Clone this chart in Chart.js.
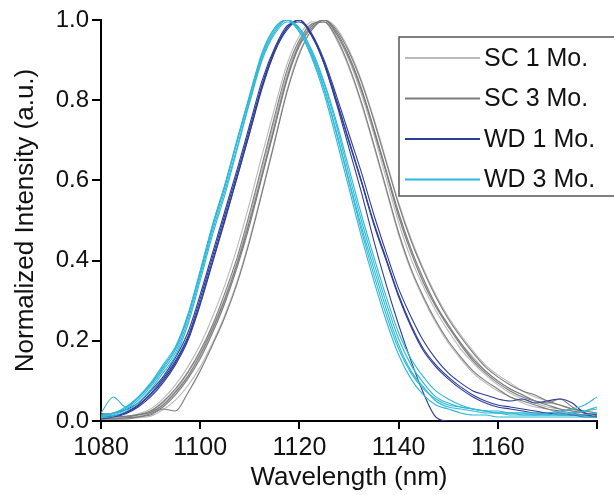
<!DOCTYPE html>
<html>
<head>
<meta charset="utf-8">
<script src="https://cdn.jsdelivr.net/npm/chart.js@4.4.1/dist/chart.umd.min.js"></script>
<style>
  html, body { margin: 0; padding: 0; background: #fff; }
</style>
</head>
<body>
<canvas id="chart" width="614" height="495"></canvas>
<script>
// wavelength grid (nm), shared by every spectrum
const wavelengths = [1080, 1082.5, 1085, 1087.5, 1090, 1092.5, 1095, 1097.5, 1100, 1102.5,
  1105, 1107.5, 1110, 1112.5, 1115, 1117.5, 1120, 1122.5, 1125, 1127.5,
  1130, 1132.5, 1135, 1137.5, 1140, 1142.5, 1145, 1147.5, 1150, 1152.5,
  1155, 1157.5, 1160, 1162.5, 1165, 1167.5, 1170, 1172.5, 1175, 1177.5, 1180];

const groupLabels = ['SC 1 Mo.', 'SC 3 Mo.', 'WD 1 Mo.', 'WD 3 Mo.'];
const groupColors = ['#b9b9b9', '#7c7c7c', '#2e3d99', '#2fb8d8'];

const xTicks = [1080, 1100, 1120, 1140, 1160, 1180];
const yTicks = [0, 0.2, 0.4, 0.6, 0.8, 1.0];

// SC 1 Mo. spectra
const sc1Curves = [
  [0.005,0.005,0.008,0.012,0.02,0.04,0.07,0.11,0.16,0.225,0.3,0.39,0.5,0.62,0.74,0.86,0.94,0.985,
   1.0,0.965,0.9,0.815,0.715,0.605,0.495,0.405,0.335,0.275,0.225,0.18,0.145,0.115,0.09,0.07,0.055,0.045,0.035,0.03,0.025,0.02,0.015],
  [0.01,0.008,0.01,0.018,0.03,0.055,0.09,0.135,0.19,0.26,0.34,0.435,0.545,0.665,0.78,0.89,0.96,0.995,
   0.995,0.95,0.88,0.79,0.685,0.575,0.465,0.375,0.305,0.245,0.195,0.155,0.12,0.095,0.075,0.06,0.045,0.035,0.03,0.02,0.015,0.015,0.01],
  [0.005,0.005,0.005,0.008,0.012,0.028,0.052,0.088,0.135,0.195,0.265,0.35,0.455,0.575,0.7,0.825,0.92,0.975,
   1.0,0.98,0.925,0.85,0.755,0.65,0.545,0.455,0.38,0.315,0.26,0.215,0.175,0.14,0.115,0.095,0.075,0.06,0.05,0.04,0.03,0.02,0.015],
  [0.015,0.01,0.012,0.015,0.025,0.045,0.075,0.12,0.17,0.235,0.31,0.4,0.51,0.63,0.75,0.865,0.945,0.99,
   0.995,0.96,0.9,0.82,0.725,0.62,0.515,0.425,0.35,0.29,0.24,0.195,0.16,0.125,0.1,0.08,0.065,0.05,0.045,0.04,0.03,0.025,0.02]
];

// SC 3 Mo. spectra
const sc3Curves = [
  [0.005,0.005,0.008,0.01,0.018,0.035,0.065,0.105,0.155,0.22,0.295,0.385,0.49,0.61,0.73,0.85,0.935,0.98,
   1.0,0.97,0.91,0.83,0.73,0.625,0.52,0.43,0.355,0.29,0.24,0.195,0.155,0.125,0.1,0.08,0.065,0.05,0.04,0.03,0.025,0.02,0.015],
  [0.008,0.01,0.012,0.016,0.025,0.048,0.08,0.122,0.175,0.24,0.32,0.41,0.52,0.64,0.76,0.875,0.95,0.99,
   0.995,0.955,0.885,0.795,0.69,0.58,0.47,0.38,0.31,0.25,0.2,0.16,0.125,0.1,0.08,0.06,0.05,0.04,0.03,0.025,0.02,0.015,0.01],
  [0.01,0.005,0.005,0.01,0.015,0.03,0.025,0.07,0.125,0.19,0.26,0.345,0.45,0.57,0.695,0.82,0.915,0.975,
   1.0,0.975,0.92,0.845,0.75,0.645,0.54,0.45,0.375,0.31,0.255,0.21,0.17,0.135,0.11,0.09,0.075,0.065,0.05,0.04,0.03,0.025,0.02],
  [0.02,0.012,0.01,0.015,0.022,0.04,0.072,0.112,0.165,0.23,0.305,0.395,0.5,0.615,0.735,0.855,0.94,0.985,
   1.0,0.965,0.905,0.825,0.725,0.62,0.51,0.42,0.345,0.285,0.235,0.19,0.15,0.12,0.095,0.075,0.06,0.05,0.045,0.055,0.035,0.02,0.015]
];

// WD 1 Mo. spectra
const wd1Curves = [
  [0.008,0.012,0.022,0.04,0.068,0.105,0.15,0.21,0.305,0.41,0.515,0.62,0.73,0.84,0.925,0.98,
   1.0,0.96,0.89,0.795,0.695,0.595,0.49,0.4,0.31,0.235,0.175,0.135,0.105,0.08,0.06,0.045,0.035,0.03,0.025,0.02,0.02,0.015,0.015,0.01,0.01],
  [0.005,0.01,0.018,0.035,0.06,0.095,0.14,0.2,0.29,0.395,0.5,0.61,0.72,0.83,0.92,0.975,
   1.0,0.965,0.89,0.79,0.68,0.57,0.45,0.34,0.24,0.15,0.07,0.01,0,0,0,0,0,0,0,0,0,0,0,0,0],
  [0.015,0.02,0.028,0.045,0.075,0.11,0.158,0.22,0.315,0.42,0.525,0.63,0.74,0.85,0.93,0.985,
   0.995,0.965,0.9,0.81,0.715,0.62,0.515,0.42,0.33,0.26,0.2,0.155,0.12,0.095,0.075,0.065,0.055,0.05,0.055,0.045,0.05,0.055,0.045,0.02,0.015],
  [0.01,0.012,0.02,0.038,0.065,0.1,0.145,0.205,0.295,0.4,0.505,0.61,0.72,0.835,0.92,0.98,
   1.0,0.96,0.895,0.8,0.7,0.6,0.495,0.405,0.315,0.24,0.18,0.14,0.11,0.085,0.065,0.05,0.04,0.035,0.03,0.025,0.02,0.02,0.015,0.015,0.01]
];

// WD 3 Mo. spectra
const wd3Curves = [
  [0.01,0.015,0.028,0.052,0.085,0.127,0.17,0.25,0.36,0.475,0.575,0.685,0.8,0.905,0.97,
   1.0,0.975,0.915,0.83,0.72,0.6,0.485,0.38,0.28,0.19,0.125,0.085,0.05,0.035,0.03,0.025,0.02,0.02,0.015,0.015,0.015,0.015,0.015,0.015,0.015,0.02],
  [0.02,0.06,0.035,0.058,0.09,0.132,0.178,0.26,0.37,0.485,0.585,0.7,0.81,0.91,0.975,
   1.0,0.98,0.92,0.84,0.735,0.615,0.5,0.395,0.295,0.205,0.14,0.095,0.06,0.045,0.035,0.03,0.025,0.02,0.02,0.015,0.015,0.015,0.02,0.02,0.025,0.03],
  [0.012,0.018,0.032,0.058,0.092,0.135,0.18,0.262,0.372,0.488,0.59,0.7,0.81,0.915,0.98,
   1.0,0.97,0.905,0.815,0.7,0.58,0.46,0.35,0.25,0.165,0.105,0.065,0.04,0.03,0.02,0.015,0.015,0.01,0.01,0.01,0.01,0.01,0.01,0.01,0.01,0.01],
  [0.008,0.012,0.024,0.046,0.078,0.12,0.162,0.24,0.35,0.465,0.565,0.68,0.795,0.9,0.965,
   0.995,0.98,0.925,0.845,0.745,0.63,0.515,0.41,0.31,0.22,0.155,0.11,0.075,0.055,0.04,0.03,0.025,0.025,0.02,0.02,0.02,0.015,0.015,0.02,0.025,0.035],
  [0.015,0.02,0.035,0.06,0.095,0.14,0.185,0.265,0.375,0.49,0.59,0.705,0.815,0.92,0.98,
   1.0,0.97,0.91,0.825,0.715,0.595,0.475,0.365,0.265,0.18,0.12,0.08,0.055,0.04,0.035,0.03,0.025,0.02,0.02,0.02,0.015,0.02,0.025,0.03,0.04,0.06]
];

const groupCurves = [sc1Curves, sc3Curves, wd1Curves, wd3Curves];

const FONT = '"Liberation Sans", Arial, sans-serif';

// one dataset per spectrum; later groups are drawn on top
const datasets = [];
groupCurves.forEach((curves, g) => {
  curves.forEach((vals) => {
    datasets.push({
      label: groupLabels[g],
      data: vals.map((v, i) => ({ x: wavelengths[i], y: v })),
      borderColor: groupColors[g],
      borderWidth: 1.1,
      pointRadius: 0,
      fill: false,
      cubicInterpolationMode: 'monotone',
      order: groupCurves.length - g,
    });
  });
});

// boxed legend in the upper right, drawn on the canvas
const boxLegend = {
  id: 'boxLegend',
  afterDraw(chart) {
    const { ctx, chartArea } = chart;
    const left = chartArea.right - 198;
    const top = chartArea.top + 17;
    ctx.save();
    ctx.fillStyle = '#fff';
    ctx.fillRect(left, top, 240, 159);
    ctx.strokeStyle = '#555';
    ctx.lineWidth = 1.5;
    ctx.strokeRect(left, top, 240, 159);
    ctx.font = '25px ' + FONT;
    ctx.textBaseline = 'middle';
    groupLabels.forEach((label, i) => {
      const y = top + 21 + i * 40.5;
      ctx.strokeStyle = groupColors[i];
      ctx.lineWidth = 2;
      ctx.beginPath();
      ctx.moveTo(left + 6, y);
      ctx.lineTo(left + 81, y);
      ctx.stroke();
      ctx.fillStyle = '#111';
      ctx.fillText(label, left + 85, y + 1);
    });
    ctx.restore();
  },
};

new Chart(document.getElementById('chart'), {
  type: 'line',
  data: { datasets },
  plugins: [boxLegend],
  options: {
    responsive: false,
    animation: false,
    layout: { padding: { top: 20, right: 17, left: 0, bottom: 0 } },
    plugins: { legend: { display: false }, tooltip: { enabled: false } },
    scales: {
      x: {
        type: 'linear',
        min: 1080,
        max: 1180,
        afterBuildTicks: (s) => { s.ticks = xTicks.map((v) => ({ value: v })); },
        afterFit: (s) => { s.height = 74; },
        ticks: {
          autoSkip: false,
          maxRotation: 0,
          padding: 4,
          color: '#111',
          font: { family: FONT, size: 25 },
          callback: (v) => (v === 1180 ? '' : v),
        },
        grid: { drawOnChartArea: false, drawTicks: true, tickLength: 8, color: '#000', lineWidth: 2 },
        border: { display: true, color: '#000', width: 2 },
        title: { display: true, text: 'Wavelength (nm)', color: '#111', font: { family: FONT, size: 26 }, padding: { top: 0, bottom: 2 } },
      },
      y: {
        min: 0,
        max: 1.0,
        afterBuildTicks: (s) => { s.ticks = yTicks.map((v) => ({ value: v })); },
        afterFit: (s) => { s.width = 101; },
        ticks: {
          padding: 3,
          color: '#111',
          font: { family: FONT, size: 24 },
          callback: (v) => v.toFixed(1),
        },
        grid: { drawOnChartArea: false, drawTicks: true, tickLength: 9, color: '#000', lineWidth: 2 },
        border: { display: true, color: '#000', width: 2 },
        title: { display: true, text: 'Normalized Intensity (a.u.)', color: '#111', font: { family: FONT, size: 26 }, padding: { top: 10, bottom: 2 } },
      },
    },
  },
});
</script>
</body>
</html>
